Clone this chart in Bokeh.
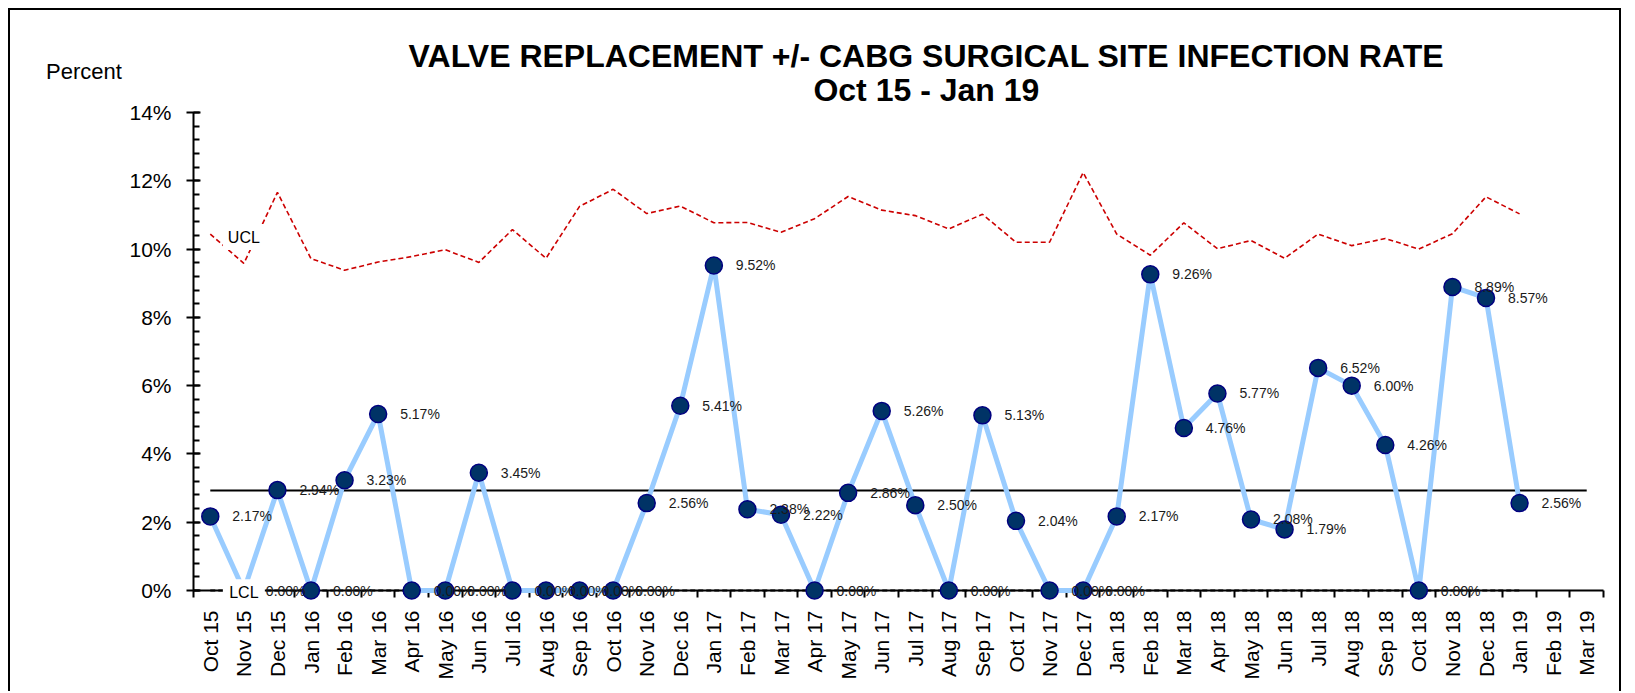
import math
from bokeh.plotting import figure
from bokeh.models import FixedTicker, PrintfTickFormatter, ColumnDataSource
from bokeh.embed import file_html
from bokeh.resources import INLINE
from bokeh.core.properties import value

# ---------------- data ----------------
months = ["Oct 15", "Nov 15", "Dec 15",
          "Jan 16", "Feb 16", "Mar 16", "Apr 16", "May 16", "Jun 16",
          "Jul 16", "Aug 16", "Sep 16", "Oct 16", "Nov 16", "Dec 16",
          "Jan 17", "Feb 17", "Mar 17", "Apr 17", "May 17", "Jun 17",
          "Jul 17", "Aug 17", "Sep 17", "Oct 17", "Nov 17", "Dec 17",
          "Jan 18", "Feb 18", "Mar 18", "Apr 18", "May 18", "Jun 18",
          "Jul 18", "Aug 18", "Sep 18", "Oct 18", "Nov 18", "Dec 18",
          "Jan 19", "Feb 19", "Mar 19"]

rate = [2.17, 0.00, 2.94, 0.00, 3.23, 5.17, 0.00, 0.00, 3.45, 0.00,
        0.00, 0.00, 0.00, 2.56, 5.41, 9.52, 2.38, 2.22, 0.00, 2.86,
        5.26, 2.50, 0.00, 5.13, 2.04, 0.00, 0.00, 2.17, 9.26, 4.76,
        5.77, 2.08, 1.79, 6.52, 6.00, 4.26, 0.00, 8.89, 8.57, 2.56]

ucl = [10.44, 9.58, 11.66, 9.72, 9.38, 9.62, 9.78, 9.98, 9.61, 10.57,
       9.73, 11.25, 11.75, 11.04, 11.26, 10.77, 10.78, 10.49, 10.89, 11.54,
       11.14, 10.98, 10.59, 11.02, 10.20, 10.20, 12.24, 10.44, 9.82, 10.77,
       10.01, 10.25, 9.73, 10.44, 10.10, 10.31, 10.00, 10.45, 11.53, 11.03]

center_value = 2.93
lcl_value = 0.0

y_ticks = [0, 2, 4, 6, 8, 10, 12, 14]

title_line1 = "VALVE REPLACEMENT +/- CABG SURGICAL SITE INFECTION RATE"
title_line2 = "Oct 15 - Jan 19"
y_title = "Percent"

# ---------------- figure ----------------
FONT = "Liberation Sans"
n_all = len(months)
idx_all = list(range(n_all))
idx_data = idx_all[:len(rate)]

p = figure(width=1613, height=683,
           x_range=(-0.5, n_all - 0.5), y_range=(0, 14),
           output_backend="svg", toolbar_location=None,
           min_border_left=183, min_border_right=20,
           min_border_top=102, min_border_bottom=103,
           background_fill_color="white", border_fill_color="white",
           outline_line_color=None,
           styles={"margin-left": "8px", "margin-top": "8px",
                   "border-top": "2px solid black",
                   "border-left": "2px solid black",
                   "border-right": "2px solid black"})
p.grid.visible = False

# x axis (categories, ticks between categories)
xa = p.xaxis[0]
xa.ticker = FixedTicker(ticks=idx_all, minor_ticks=[i - 0.5 for i in range(n_all + 1)])
xa.major_label_overrides = {i: m for i, m in enumerate(months)}
xa.major_label_orientation = math.pi / 2
xa.major_tick_out = 0
xa.major_tick_in = 0
xa.minor_tick_out = 7
xa.minor_tick_in = 0
xa.minor_tick_line_width = 2
xa.minor_tick_line_color = "black"
xa.axis_line_width = 2
xa.axis_line_color = "black"
xa.major_label_text_font = FONT
xa.major_label_text_font_size = "21px"
xa.major_label_text_color = "black"
xa.major_label_standoff = 13

# y axis
ya = p.yaxis[0]
ya.ticker = FixedTicker(ticks=y_ticks, minor_ticks=[round(0.4 * k, 1) for k in range(36)])
ya.formatter = PrintfTickFormatter(format="%d%%")
ya.major_tick_out = 7
ya.major_tick_in = 7
ya.minor_tick_out = 0
ya.minor_tick_in = 6
ya.major_tick_line_width = 2
ya.minor_tick_line_width = 2
ya.axis_line_width = 2
ya.axis_line_color = "black"
ya.major_label_text_font = FONT
ya.major_label_text_font_size = "21px"
ya.major_label_text_color = "black"
ya.major_label_standoff = 15

# ---------------- series ----------------
p.line(idx_data, ucl, line_color="#CC0000", line_width=1.6, line_dash="5 3",
       level="annotation")
p.line(idx_all, [center_value] * n_all, line_color="black", line_width=2,
       level="annotation")
p.line(idx_data, [lcl_value] * len(rate), line_color="black", line_width=2,
       line_dash="5 3", level="annotation")
p.line(idx_data, rate, line_color="#99CCFF", line_width=5, level="annotation")
p.scatter(idx_data, rate, size=17, fill_color="#003366", line_color="#000080",
          line_width=1.5, level="annotation")

src = ColumnDataSource(dict(x=idx_data, y=rate, t=[f"{v:.2f}%" for v in rate]))
p.text(x="x", y="y", text="t", source=src, x_offset=22, text_align="left",
       text_baseline="middle", text_font=value(FONT), text_font_size="14px",
       text_color="#1a1a1a", level="annotation")

# UCL / LCL labels on a white box (placed at Nov 15)
ctl_src = ColumnDataSource(dict(x=[1, 1], y=[10.35, -0.05], t=["UCL", "LCL"]))
p.rect(x="x", y="y", width=42, height=26, width_units="screen",
       height_units="screen", source=ctl_src, fill_color="white",
       line_color=None, level="overlay")
p.text(x="x", y="y", text="t", source=ctl_src, text_align="center",
       text_baseline="middle", text_font=value(FONT), text_font_size="16px",
       text_color="black", level="overlay")

# titles
ttl_src = ColumnDataSource(dict(x=[21.33, 21.33], y=[15.66, 14.65],
                                t=[title_line1, title_line2]))
p.text(x="x", y="y", text="t", source=ttl_src, text_align="center",
       text_baseline="alphabetic", text_font=value(FONT),
       text_font_size="32px", text_font_style="bold", text_color="black",
       level="overlay")
p.text(x=[-4.89], y=[15.2], text=[y_title], text_align="left",
       text_baseline="alphabetic", text_font=value(FONT),
       text_font_size="22px", text_color="black", level="overlay")

open("out.html", "w").write(file_html(p, INLINE))
